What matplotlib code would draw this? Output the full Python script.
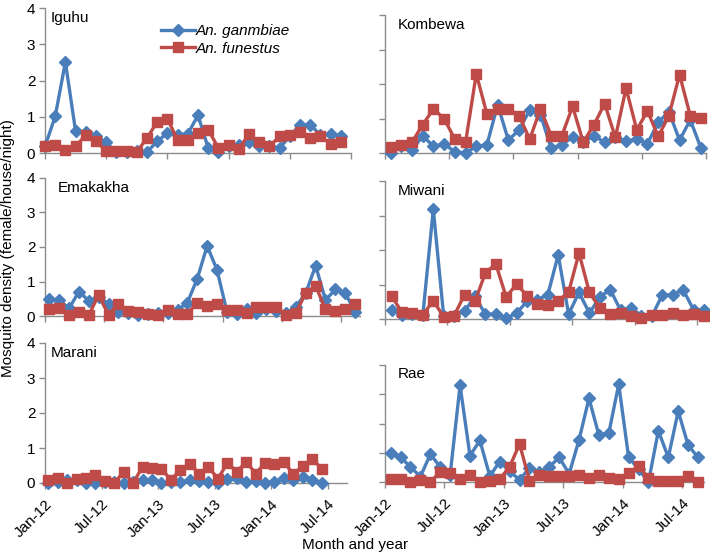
import numpy as np
import matplotlib
matplotlib.use("Agg")
import matplotlib.pyplot as plt

plt.rcParams['font.family'] = ['Liberation Sans', 'DejaVu Sans']

tick_labels = ["Jan-12", "Jul-12", "Jan-13", "Jul-13", "Jan-14", "Jul-14"]
series_names = ["An. ganmbiae", "An. funestus"]

iguhu_gam = [0.18, 1.01, 2.51, 0.60, 0.58, 0.46, 0.29, 0.02, 0.02, 0.06, 0.03, 0.32, 0.55, 0.50, 0.53,
             1.04, 0.14, 0.02, 0.18, 0.21, 0.29, 0.18, 0.18, 0.14, 0.46, 0.78, 0.78, 0.50, 0.52, 0.46]
iguhu_fun = [0.18, 0.23, 0.07, 0.18, 0.50, 0.32, 0.06, 0.06, 0.06, 0.03, 0.41, 0.86, 0.95, 0.35, 0.35,
             0.55, 0.64, 0.14, 0.23, 0.11, 0.52, 0.29, 0.18, 0.46, 0.50, 0.58, 0.41, 0.46, 0.26, 0.29]

kombewa_gam = [0.00, 0.19, 0.08, 0.50, 0.19, 0.27, 0.03, 0.00, 0.19, 0.24, 1.40, 0.37, 0.67, 1.25, 1.11,
               0.14, 0.24, 0.46, 0.31, 0.50, 0.31, 0.46, 0.34, 0.40, 0.27, 0.89, 1.20, 0.37, 0.96, 0.14]
kombewa_fun = [0.16, 0.24, 0.32, 0.82, 1.28, 0.99, 0.40, 0.31, 2.29, 1.13, 1.27, 1.28, 1.08, 0.40, 1.28,
               0.50, 0.50, 1.35, 0.31, 0.82, 1.43, 0.45, 1.88, 0.67, 1.22, 0.48, 1.08, 2.27, 1.08, 1.01]

emakakha_gam = [0.48, 0.46, 0.22, 0.71, 0.44, 0.55, 0.35, 0.13, 0.10, 0.03, 0.06, 0.10, 0.08, 0.17, 0.39, 1.08,
                2.03, 1.34, 0.13, 0.06, 0.19, 0.08, 0.19, 0.15, 0.08, 0.27, 0.66, 1.46, 0.46, 0.77, 0.66, 0.13]
emakakha_fun = [0.19, 0.22, 0.03, 0.11, 0.03, 0.61, 0.03, 0.35, 0.15, 0.13, 0.06, 0.03, 0.17, 0.06, 0.06, 0.39,
                0.29, 0.34, 0.17, 0.17, 0.10, 0.27, 0.27, 0.27, 0.03, 0.10, 0.66, 0.88, 0.19, 0.15, 0.19, 0.34]

miwani_gam = [0.25, 0.13, 0.15, 0.13, 3.18, 0.08, 0.10, 0.22, 0.66, 0.14, 0.14, 0.02, 0.17, 0.51, 0.56, 0.70,
              1.86, 0.14, 0.77, 0.17, 0.64, 0.85, 0.25, 0.32, 0.10, 0.08, 0.70, 0.70, 0.85, 0.27, 0.27]
miwani_fun = [0.66, 0.19, 0.17, 0.12, 0.53, 0.06, 0.10, 0.70, 0.51, 1.33, 1.60, 0.64, 1.01, 0.68, 0.43, 0.40,
              0.53, 0.78, 1.91, 0.77, 0.32, 0.14, 0.17, 0.08, 0.03, 0.12, 0.12, 0.17, 0.12, 0.14, 0.10]

marani_gam = [0.00, 0.02, 0.10, 0.08, 0.00, 0.00, 0.02, 0.02, 0.00, 0.03, 0.08, 0.08, 0.00, 0.03, 0.03,
              0.08, 0.06, 0.02, 0.00, 0.12, 0.15, 0.03, 0.05, 0.00, 0.04, 0.15, 0.10, 0.17, 0.08, 0.00]
marani_fun = [0.10, 0.15, 0.00, 0.12, 0.15, 0.24, 0.05, 0.00, 0.32, 0.00, 0.46, 0.43, 0.40, 0.10, 0.36,
              0.55, 0.27, 0.46, 0.12, 0.57, 0.32, 0.61, 0.27, 0.57, 0.55, 0.61, 0.25, 0.49, 0.70, 0.41]

rae_gam = [0.99, 0.84, 0.52, 0.18, 0.95, 0.52, 0.25, 3.30, 0.90, 1.42, 0.20, 0.70, 0.36, 0.08, 0.48, 0.34,
           0.52, 0.84, 0.28, 1.44, 2.86, 1.60, 1.67, 3.34, 0.84, 0.44, 0.00, 1.75, 0.84, 2.42, 1.26, 0.84]
rae_fun = [0.10, 0.10, 0.00, 0.08, 0.00, 0.35, 0.32, 0.10, 0.25, 0.00, 0.05, 0.10, 0.52, 1.30, 0.05, 0.25,
           0.20, 0.20, 0.20, 0.25, 0.15, 0.25, 0.15, 0.10, 0.30, 0.53, 0.15, 0.02, 0.02, 0.02, 0.20, 0.00]

W, H = 710, 555
fig = plt.figure(figsize=(W / 100, H / 100), dpi=100)

BLUE = "#4A7EBB"
RED = "#BE4B48"
GREY = "#8C8C8C"

# name, gam, fun, (left, right, top, bottom px), xlim, show y labels, show x labels
panels = [
    ("Iguhu", iguhu_gam, iguhu_fun, (45, 351, 8, 153), (0.0, 30.0), True, False),
    ("Kombewa", kombewa_gam, kombewa_fun, (385, 706, 15, 153), (-0.53, 29.3), False, False),
    ("Emakakha", emakakha_gam, emakakha_fun, (45, 360, 178, 316), (-0.44, 31.5), True, False),
    ("Miwani", miwani_gam, miwani_fun, (385, 706, 181, 319), (-0.64, 30.2), False, False),
    ("Marani", marani_gam, marani_fun, (45, 347, 343, 483), (-0.35, 31.7), True, True),
    ("Rae", rae_gam, rae_fun, (385, 704, 365, 482), (-0.57, 31.6), False, True),
]

axes = {}
for name, gam, fun, (l, r, t, b), xl, ylab, xlab in panels:
    ax = fig.add_axes([l / W, 1 - b / H, (r - l) / W, (b - t) / H])
    axes[name] = ax
    x = np.arange(len(gam))
    ax.plot(x, gam, color=BLUE, lw=2.4, marker='D', markersize=6.3, label=series_names[0],
            clip_on=False, zorder=3)
    ax.plot(x, fun, color=RED, lw=2.4, marker='s', markersize=6.8, label=series_names[1],
            clip_on=False, zorder=4)
    ax.set_xlim(*xl)
    ax.set_ylim(0, 4)
    ax.set_yticks([0, 1, 2, 3, 4])
    ax.set_xticks([xl[0] + 6 * k for k in range(6)])
    for s in ["top", "right"]:
        ax.spines[s].set_visible(False)
    for s in ["left", "bottom"]:
        ax.spines[s].set_color(GREY)
        ax.spines[s].set_linewidth(1.0)
    ax.tick_params(axis='both', colors=GREY, length=4, width=1.0, direction='out',
                   labelcolor='black', labelsize=11)
    if ylab:
        ax.set_yticklabels([str(v) for v in range(5)])
        ax.tick_params(axis='y', pad=3)
    else:
        ax.set_yticklabels([])
    if xlab:
        ax.set_xticklabels(tick_labels, rotation=45, ha='right', rotation_mode='anchor')
        ax.tick_params(axis='x', pad=6)
    else:
        ax.set_xticklabels([])
    ax.text(0.02 if name in ("Iguhu", "Marani") else 0.04, 0.93 if name != "Rae" else 0.92,
            name, transform=ax.transAxes, fontsize=11, va='center', ha='left')

leg = axes["Iguhu"].legend(loc='upper left', bbox_to_anchor=(161 / W, 1 - 24 / H),
                           bbox_transform=fig.transFigure, frameon=False,
                           prop={'style': 'italic', 'size': 11}, handlelength=2.2,
                           handletextpad=0.1, labelspacing=0.25, borderaxespad=0, borderpad=0)

fig.text(8 / W, 1 - 248 / H, "Mosquito density (female/house/night)", rotation=90,
         ha='center', va='center', fontsize=11)
fig.text(355 / W, 1 - 545 / H, "Month and year", ha='center', va='center', fontsize=11)

fig.savefig("out.png", dpi=100)
